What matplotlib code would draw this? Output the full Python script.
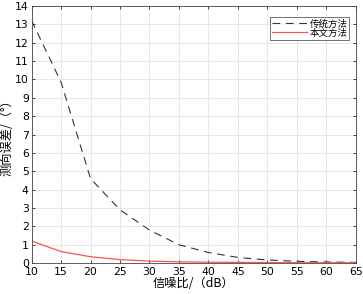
import matplotlib
matplotlib.use('Agg')
import matplotlib.pyplot as plt
import numpy as np

snr = [10, 15, 20, 25, 30, 35, 40, 45, 50, 55, 60, 65]
traditional = [13.2, 9.85, 4.6, 2.9, 1.8, 1.0, 0.58, 0.31, 0.17, 0.1, 0.06, 0.04]
proposed = [1.2, 0.63, 0.35, 0.19, 0.11, 0.07, 0.05, 0.04, 0.03, 0.02, 0.02, 0.02]
labels = ['传统方法', '本文方法']

cjk = ['Noto Sans CJK SC', 'DejaVu Sans']

fig = plt.figure(figsize=(3.63, 2.94), dpi=100)
ax = fig.add_axes([0.087, 0.105, 0.893, 0.875])

ax.plot(snr, traditional, color='#333333', linestyle=(0, (7, 5)), linewidth=0.8, label=labels[0])
ax.plot(snr, proposed, color='#ff5050', linewidth=0.9, label=labels[1])

ax.set_xlim(10, 65)
ax.set_ylim(0, 14)
ax.set_xticks(np.arange(10, 66, 5))
ax.set_yticks(np.arange(0, 15, 1))
ax.grid(True, color='#e3e3e3', linewidth=0.6)
ax.tick_params(direction='in', top=True, right=True, length=2.5, width=0.5, labelsize=7.8, pad=2)
ax.tick_params(axis='x', pad=3)
for s in ax.spines.values():
    s.set_linewidth(0.6)
    s.set_color('#444444')

ax.set_xlabel('信噪比/（dB）', family=cjk, fontsize=8.8, labelpad=0)
ax.set_ylabel('测向误差/（°）', family=cjk, fontsize=8.8, labelpad=1)

leg = ax.legend(loc='upper right', prop={'family': cjk, 'size': 6.8}, frameon=True, fancybox=False,
                handlelength=3.8, handletextpad=0.2, borderpad=0.2, labelspacing=0.0,
                borderaxespad=0.0, bbox_to_anchor=(0.98, 0.955))
leg.get_frame().set_edgecolor('#333333')
leg.get_frame().set_linewidth(0.6)

fig.savefig('out.png', dpi=100)
